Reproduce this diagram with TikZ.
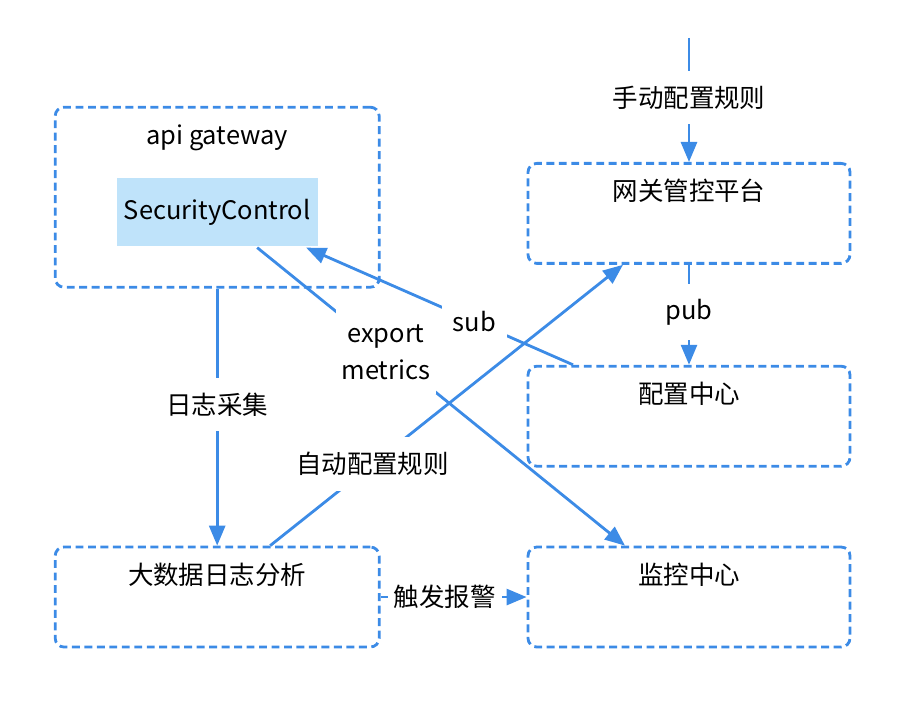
\documentclass[tikz,border=0pt]{standalone}
\usepackage{fontspec}
\setmainfont{Noto Sans CJK SC}
\usetikzlibrary{arrows.meta,positioning}
\definecolor{lineblue}{HTML}{3C8BE6}
\definecolor{scblue}{HTML}{BFE3FA}
\tikzset{%
	>={Triangle[width=3.2mm,length=4mm]},
	% Specifications for style of nodes:
	box/.style = {rectangle, rounded corners=5pt, draw=lineblue, line width=1.6pt,
		dash pattern=on 4.5pt off 2.6pt, inner sep=0pt,
		minimum width=6.44cm, text height=7.4mm, text depth=12.6mm},
	widebox/.style = {box, minimum width=6.48cm},
	module/.style = {rectangle, fill=scblue, minimum width=4.02cm,
		minimum height=1.36cm, inner sep=0pt},
	flowlabel/.style = {fill=white, inner xsep=1.2mm, inner ysep=3mm, align=center},
}
\begin{document}
\begin{tikzpicture}[line width=1.6pt,
		every node/.style={font=\fontsize{14.5pt}{21pt}\selectfont}]
	\useasboundingbox (0,0) rectangle (18.28,-14.36);

	% Specification of nodes (position, etc.)
	\node (platform) [box, anchor=north] at (13.78,-3.24) {网关管控平台};
	\node (config)   [box, below=2.0cm of platform] {配置中心};
	\node (monitor)  [box, below=1.56cm of config] {监控中心};

	\node (analysis) [widebox, left=2.92cm of monitor] {大数据日志分析};
	\node (gateway)  [widebox, text depth=28.6mm, above=5.14cm of analysis] {api gateway};
	\node (security) [module, below=1.42cm of gateway.north] {SecurityControl};

	\coordinate (manual) at ([yshift=2.48cm]platform.north);

	\draw[->] [draw=lineblue] (manual) -- node[flowlabel, pos=0.48] {手动配置规则} (platform);
	\draw[->] [draw=lineblue] (platform) -- node[flowlabel, pos=0.47] {pub} (config);
	\draw[->] [draw=lineblue] (gateway) -- node[flowlabel, pos=0.45] {日志采集} (analysis);
	\draw[->] [draw=lineblue] (analysis) -- node[flowlabel, pos=0.44] {触发报警} (monitor);

	\draw[->] [draw=lineblue] ([xshift=1.06cm]analysis.north) -- node[flowlabel, pos=0.29] {自动配置规则} ([xshift=-1.32cm]platform.south);
	\draw[->] [draw=lineblue] ([xshift=0.8cm]security.south) -- node[flowlabel, pos=0.35] {export\\metrics} ([xshift=-1.28cm]monitor.north);
	\draw[->] [draw=lineblue] ([xshift=-2.32cm]config.north) -- node[flowlabel, pos=0.37, inner sep=2.2mm] {sub} ([xshift=-0.26cm]security.south east);
\end{tikzpicture}
\end{document}
